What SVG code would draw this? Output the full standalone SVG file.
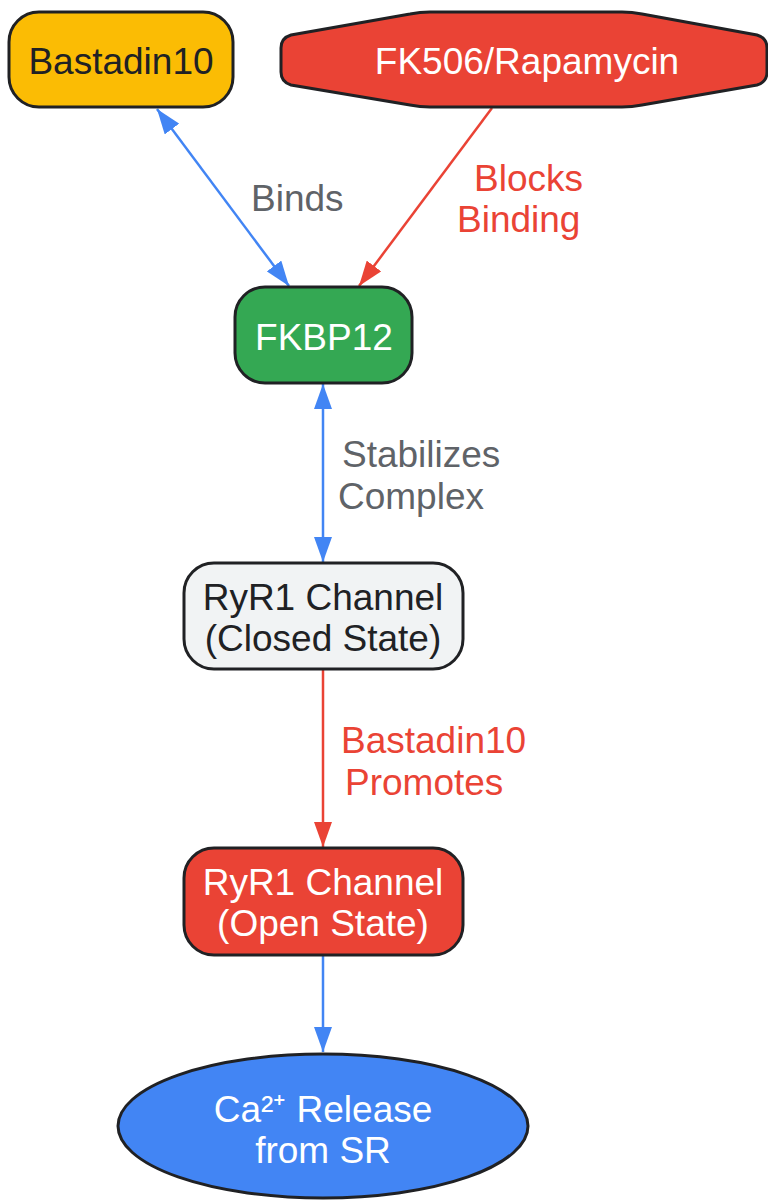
<svg xmlns="http://www.w3.org/2000/svg" width="768" height="1200" viewBox="0 0 768 1200">
<style>
text{font-family:"Liberation Sans",Arial,sans-serif;font-size:37px}
.node{stroke:#202124;stroke-width:3}
.c{text-anchor:middle}
.w{fill:#ffffff}
.d{fill:#202124}
.lg{fill:#5F6368}
.lr{fill:#EA4335}
.eb{stroke:#4285F4;stroke-width:2.5;fill:none}
.er{stroke:#EA4335;stroke-width:2.5;fill:none}
</style>
<defs>
<marker id="ab" markerUnits="userSpaceOnUse" markerWidth="26" markerHeight="18" refX="25" refY="9" orient="auto-start-reverse" viewBox="0 0 26 18"><path d="M0,0 L25,9 L0,18 Z" fill="#4285F4"/></marker>
<marker id="ar" markerUnits="userSpaceOnUse" markerWidth="26" markerHeight="18" refX="25" refY="9" orient="auto-start-reverse" viewBox="0 0 26 18"><path d="M0,0 L25,9 L0,18 Z" fill="#EA4335"/></marker>
</defs>
<g id="connectors">
<line class="eb" x1="157" y1="109" x2="289" y2="286" marker-start="url(#ab)" marker-end="url(#ab)"/>
<line class="er" x1="492" y1="108" x2="359" y2="286" marker-end="url(#ar)"/>
<line class="eb" x1="323" y1="384" x2="323" y2="562" marker-start="url(#ab)" marker-end="url(#ab)"/>
<line class="er" x1="323" y1="670" x2="323" y2="847" marker-end="url(#ar)"/>
<line class="eb" x1="323" y1="956" x2="323" y2="1052" marker-end="url(#ab)"/>
<text class="lg" x="251" y="211">Binds</text>
<text class="lr" x="474" y="191">Blocks</text>
<text class="lr" x="457" y="232">Binding</text>
<text class="lg" x="342" y="467">Stabilizes</text>
<text class="lg" x="338" y="509">Complex</text>
<text class="lr" x="341" y="753">Bastadin10</text>
<text class="lr" x="345" y="795">Promotes</text>
</g>
<g id="bastadin10">
<rect class="node" x="9" y="12" width="224" height="95" rx="30" fill="#FBBC04"/>
<text class="c d" x="121" y="74">Bastadin10</text>
</g>
<g id="fk506">
<path class="node" fill="#EA4335" d="M281,48 Q281,38 291,35 L410,14 Q420,12 430,12 L622,12 Q632,12 642,14 L757,35 Q767,38 767,48 L767,72 Q767,82 757,85 L642,105 Q632,107 622,107 L430,107 Q420,107 410,105 L291,85 Q281,82 281,72 Z"/>
<text class="c w" x="527" y="74">FK506/Rapamycin</text>
</g>
<g id="fkbp12">
<rect class="node" x="235" y="287" width="177" height="96" rx="30" fill="#34A853"/>
<text class="c w" x="324" y="350">FKBP12</text>
</g>
<g id="ryr1closed">
<rect class="node" x="184" y="563" width="279" height="106" rx="30" fill="#F1F3F4"/>
<text class="c d" x="323" y="610">RyR1 Channel</text>
<text class="c d" x="323" y="651">(Closed State)</text>
</g>
<g id="ryr1open">
<rect class="node" x="184" y="848" width="279" height="107" rx="30" fill="#EA4335"/>
<text class="c w" x="323" y="895">RyR1 Channel</text>
<text class="c w" x="323" y="936">(Open State)</text>
</g>
<g id="ca">
<ellipse class="node" cx="323" cy="1126" rx="205" ry="72" fill="#4285F4"/>
<text class="c w" x="323" y="1122">Ca²⁺ Release</text>
<text class="c w" x="323" y="1163">from SR</text>
</g>
</svg>
